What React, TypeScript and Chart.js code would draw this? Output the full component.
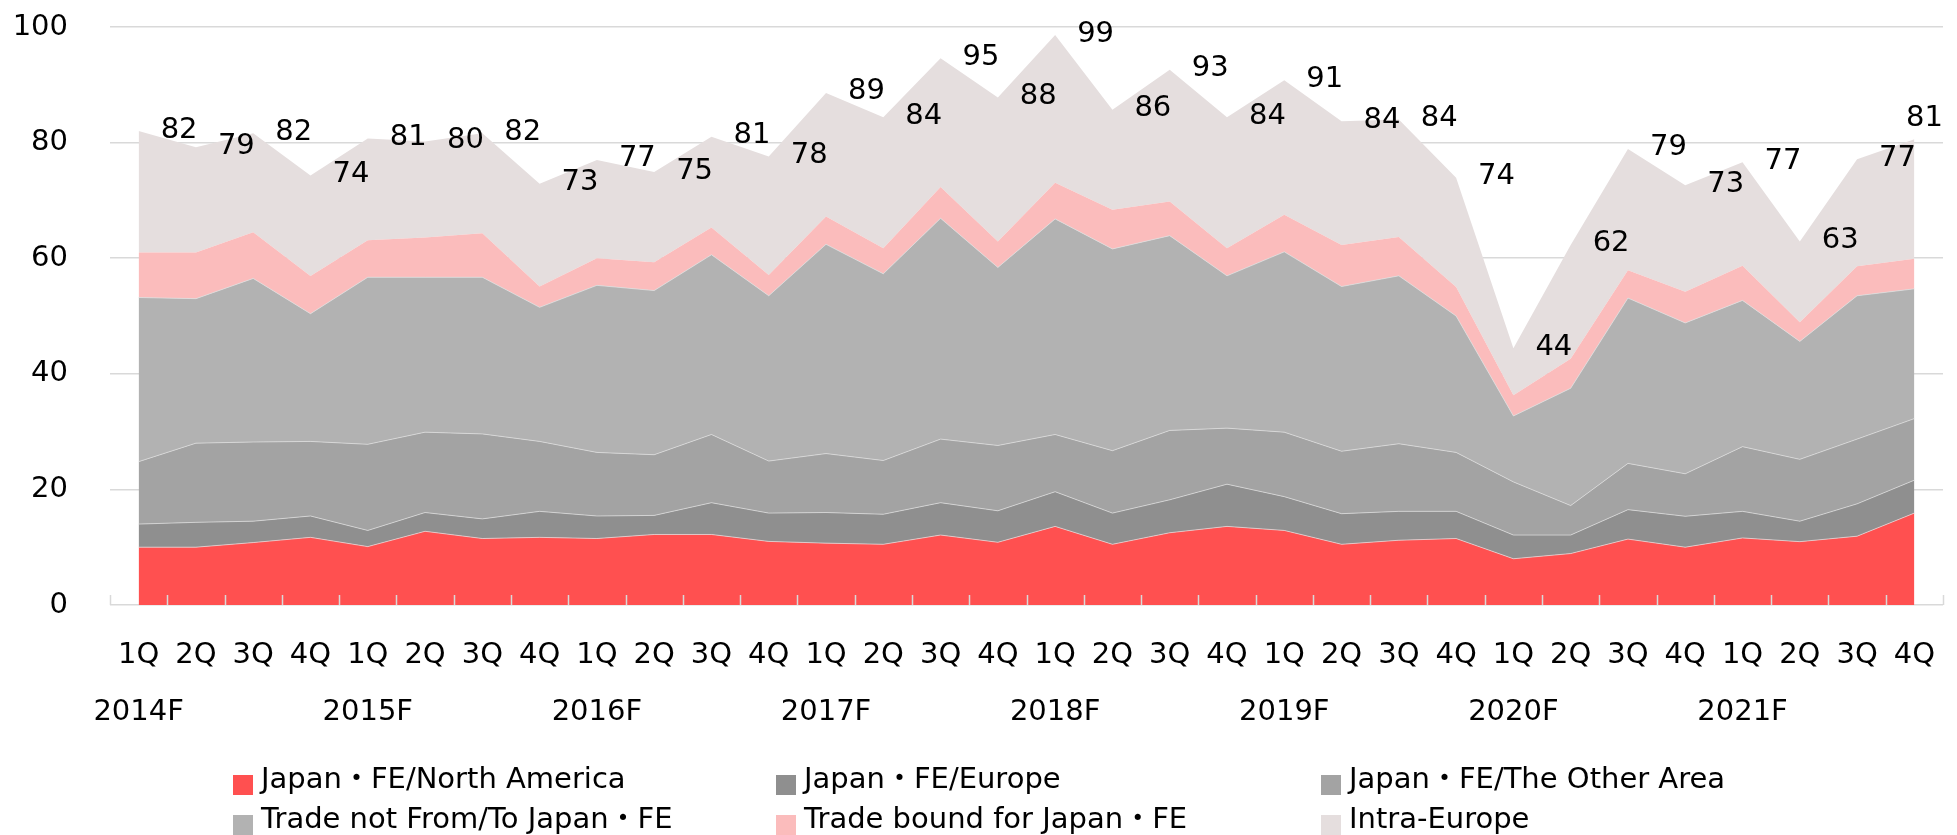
import React, { useEffect, useRef } from "react";
import { Chart, registerables } from "chart.js";

Chart.register(...registerables);

const FONT = "'DejaVu Sans', 'Noto Sans CJK JP', sans-serif";

const years = ["2014F", "2015F", "2016F", "2017F", "2018F", "2019F", "2020F", "2021F"];
const quarters = ["1Q", "2Q", "3Q", "4Q"];
const yTicks = [0, 20, 40, 60, 80, 100];

const seriesNames = [
  "Japan・FE/North America",
  "Japan・FE/Europe",
  "Japan・FE/The Other Area",
  "Trade not From/To Japan・FE",
  "Trade bound for Japan・FE",
  "Intra-Europe",
];
const seriesColors = ["#FF5050", "#8F8F8F", "#A3A3A3", "#B2B2B2", "#FBBCBC", "#E5DEDE"];

const northAmerica = [
  10.0, 10.0, 10.8, 11.7, 10.1, 12.75, 11.5, 11.7,
  11.5, 12.2, 12.2, 11.0, 10.7, 10.5, 12.1, 10.85,
  13.6, 10.5, 12.5, 13.6, 12.9, 10.5, 11.2, 11.5,
  8.0, 8.9, 11.4, 10.0, 11.6, 10.96, 11.9, 15.9,
];
const europe = [
  4.0, 4.3, 3.7, 3.7, 2.8, 3.25, 3.4, 4.5,
  3.9, 3.3, 5.5, 4.9, 5.3, 5.2, 5.6, 5.45,
  6.0, 5.4, 5.7, 7.3, 5.85, 5.3, 5.0, 4.7,
  4.1, 3.2, 5.1, 5.35, 4.6, 3.54, 5.6, 5.7,
];
const otherArea = [
  10.8, 13.7, 13.7, 12.9, 14.9, 13.9, 14.7, 12.1,
  11.0, 10.5, 11.8, 9.0, 10.2, 9.3, 11.0, 11.3,
  9.9, 10.8, 12.0, 9.7, 11.15, 10.8, 11.7, 10.2,
  9.2, 5.1, 8.0, 7.35, 11.2, 10.7, 11.2, 10.65,
];
const tradeNotJapan = [
  28.4, 25.0, 28.3, 22.1, 28.9, 26.8, 27.1, 23.2,
  28.9, 28.4, 31.1, 28.6, 36.2, 32.3, 38.2, 30.8,
  37.3, 34.9, 33.7, 26.35, 31.2, 28.5, 29.05, 23.6,
  11.4, 20.3, 28.6, 26.1, 25.3, 20.4, 24.8, 22.45,
];
const boundForJapan = [
  7.8, 8.0, 8.0, 6.5, 6.4, 6.9, 7.6, 3.6,
  4.7, 4.9, 4.7, 3.6, 4.8, 4.4, 5.4, 4.5,
  6.25, 6.8, 5.9, 4.75, 6.4, 7.2, 6.7, 5.0,
  3.6, 5.1, 4.8, 5.4, 6.0, 3.3, 5.1, 5.2,
];
const intraEurope = [
  21.0, 18.2, 17.1, 17.4, 17.6, 16.6, 17.3, 17.8,
  17.0, 15.6, 15.7, 20.5, 21.4, 22.7, 22.3, 24.9,
  25.55, 17.3, 22.8, 22.7, 23.3, 21.4, 20.35, 18.9,
  8.1, 19.7, 21.0, 18.4, 17.9, 14.0, 18.5, 20.7,
];

const seriesData = [northAmerica, europe, otherArea, tradeNotJapan, boundForJapan, intraEurope];

const tickMarksPlugin = {
  id: "insideTickMarks",
  afterDatasetsDraw(chart: any) {
    const x = chart.scales.x;
    const ctx = chart.ctx;
    const n = chart.data.labels.length;
    const bottom = chart.chartArea.bottom;
    ctx.save();
    ctx.strokeStyle = "#D9D9D9";
    ctx.lineWidth = 1.5;
    for (let k = 0; k <= n; k++) {
      const px = Math.round(x.getPixelForValue(k - 0.5)) + 0.5;
      ctx.beginPath();
      ctx.moveTo(px, bottom - 10);
      ctx.lineTo(px, bottom);
      ctx.stroke();
    }
    ctx.restore();
  },
};

const totalLabelsPlugin = {
  id: "totalLabels",
  afterDatasetsDraw(chart: any) {
    const ctx = chart.ctx;
    const dsCount = chart.data.datasets.length;
    const top = chart.getDatasetMeta(dsCount - 1);
    const area = chart.chartArea;
    ctx.save();
    ctx.font = `29px ${FONT}`;
    ctx.fillStyle = "#000";
    ctx.textBaseline = "middle";
    ctx.textAlign = "left";
    top.data.forEach((pt: any, i: number) => {
      let total = 0;
      for (const ds of chart.data.datasets) total += ds.data[i];
      const text = String(Math.round(total));
      const w = ctx.measureText(text).width;
      let x = pt.x + 22;
      let y = pt.y - 1;
      if (x + w > area.right) {
        x = area.right - w;
        y = pt.y - 21;
      }
      ctx.fillText(text, x, y);
    });
    ctx.restore();
  },
};

const legendPlugin = {
  id: "gridLegend",
  afterDraw(chart: any) {
    const ctx = chart.ctx;
    const area = chart.chartArea;
    const cols = [123, 666, 1211];
    const rows = [170, 210];
    ctx.save();
    ctx.font = `29px ${FONT}`;
    ctx.textBaseline = "middle";
    ctx.textAlign = "left";
    chart.data.datasets.forEach((ds: any, i: number) => {
      const bx = area.left + cols[i % 3];
      const by = area.bottom + rows[Math.floor(i / 3)];
      ctx.fillStyle = ds.backgroundColor;
      ctx.fillRect(bx, by, 20, 20);
      ctx.fillStyle = "#000";
      ctx.fillText(ds.label, bx + 28, by + 5.5);
    });
    ctx.restore();
  },
};

export default function App() {
  const ref = useRef<HTMLCanvasElement>(null);

  useEffect(() => {
    if (!ref.current) return;
    const labels = years.flatMap((y) => quarters.map((q, j) => (j === 0 ? [q, y] : [q, ""])));
    const datasets = seriesData.map((d, i) => ({
      label: seriesNames[i],
      data: d,
      backgroundColor: seriesColors[i],
      borderColor: i < 4 ? "rgba(225,225,225,0.7)" : seriesColors[i],
      borderWidth: i < 4 ? 1 : 0,
      fill: i === 0 ? "origin" : "-1",
      pointRadius: 0,
      pointHoverRadius: 0,
      tension: 0,
    }));
    const chart = new Chart(ref.current, {
      type: "line",
      data: { labels, datasets } as any,
      options: {
        animation: false,
        responsive: false,
        devicePixelRatio: 1,
        events: [],
        layout: { padding: { top: 27, right: 14, left: 0, bottom: 0 } },
        font: { family: FONT, size: 29 },
        plugins: {
          legend: { display: false },
          tooltip: { enabled: false },
          title: { display: false },
        },
        scales: {
          x: {
            type: "category",
            offset: true,
            grid: { display: false, offset: true },
            border: { display: false },
            ticks: {
              autoSkip: false,
              maxRotation: 0,
              minRotation: 0,
              padding: 14.5,
              color: "#000",
              font: { family: FONT, size: 29, lineHeight: 1.95 },
            },
            afterFit(scale: any) {
              scale.height = 230;
            },
          },
          y: {
            stacked: true,
            min: 0,
            max: 100,
            afterBuildTicks(scale: any) {
              scale.ticks = yTicks.map((v) => ({ value: v }));
            },
            grid: {
              color: "#D9D9D9",
              lineWidth: 1.5,
              drawTicks: true,
              tickLength: 42,
              tickColor: "rgba(0,0,0,0)",
            },
            border: { display: false },
            ticks: {
              padding: 0,
              color: "#000",
              font: { family: FONT, size: 29 },
            },
            afterFit(scale: any) {
              scale.width = 110;
            },
          },
        },
      } as any,
      plugins: [tickMarksPlugin, totalLabelsPlugin, legendPlugin],
    });
    return () => chart.destroy();
  }, []);

  return (
    <div style={{ position: "absolute", left: 0, top: 0, width: 1957, height: 835, background: "#fff" }}>
      <canvas ref={ref} width={1957} height={835} style={{ display: "block", width: 1957, height: 835 }} />
    </div>
  );
}
